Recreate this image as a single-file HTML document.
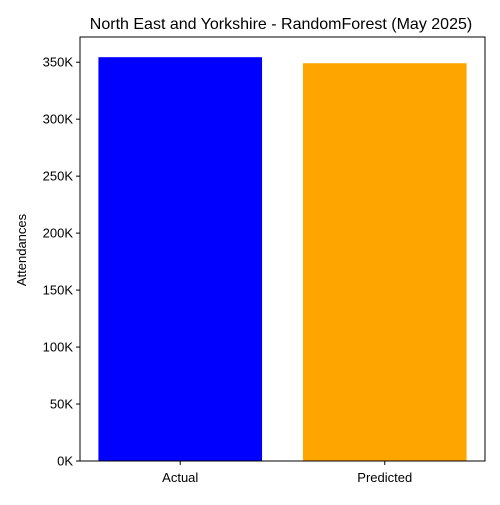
<!DOCTYPE html>
<html><head><meta charset="utf-8"><style>
body{margin:0;background:#fff;}
svg text{font-family:"Liberation Sans","DejaVu Sans",sans-serif;}
</style></head><body>
<svg id="chart" width="500" height="500" viewBox="0 0 500 500">
<rect width="500" height="500" fill="#fff"/>
<text x="281" y="29" font-size="16" text-anchor="middle">North East and Yorkshire - RandomForest (May 2025)</text>
<text transform="translate(26,250) rotate(-90)" font-size="13" text-anchor="middle">Attendances</text>
<g id="bars"></g><g id="yticks"></g><g id="xticks"></g>
<rect x="80" y="37" width="405" height="424" fill="none" stroke="#000" stroke-width="1"/>
</svg>
<script>
const categories = ["Actual", "Predicted"];
const values = [354400, 349100];
const colors = ["#0000ff", "#ffa500"];
const yTicks = [0, 50000, 100000, 150000, 200000, 250000, 300000, 350000];
const yTickLabels = ["0K","50K","100K","150K","200K","250K","300K","350K"];

const ns = "http://www.w3.org/2000/svg";
const L = 80, R = 485, T = 37, B = 461;
const yMax = Math.max(...values) * 1.05;
const xMin = -0.49, xMax = categories.length - 1 + 0.49;
const xs = v => L + (v - xMin) / (xMax - xMin) * (R - L);
const ys = v => B - v / yMax * (B - T);
function mk(tag, attrs){const e=document.createElementNS(ns,tag);for(const k in attrs)e.setAttribute(k,attrs[k]);return e;}
const gb = document.getElementById("bars"), gy = document.getElementById("yticks"), gx = document.getElementById("xticks");
categories.forEach((c,i)=>{
  const x0 = xs(i-0.4), x1 = xs(i+0.4);
  const r = mk("rect",{x:x0,y:ys(values[i]),width:x1-x0,height:B-ys(values[i]),fill:colors[i]});
  
  
  gb.appendChild(r);
  const t = mk("line",{x1:xs(i),x2:xs(i),y1:B,y2:B+4,stroke:"#000"});
  
  
  gx.appendChild(t);
  const lb = mk("text",{x:xs(i),y:B+21,"font-size":13,"text-anchor":"middle"});
  lb.textContent = c;
  
  
  gx.appendChild(lb);
});
yTicks.forEach((v,i)=>{
  const y = ys(v);
  const t = mk("line",{x1:L-4,x2:L,y1:y,y2:y,stroke:"#000"});
  
  
  gy.appendChild(t);
  const lb = mk("text",{x:L-7,y:y+4.5,"font-size":13,"text-anchor":"end"});
  lb.textContent = yTickLabels[i];
  
  
  gy.appendChild(lb);
});
</script>
</body></html>
